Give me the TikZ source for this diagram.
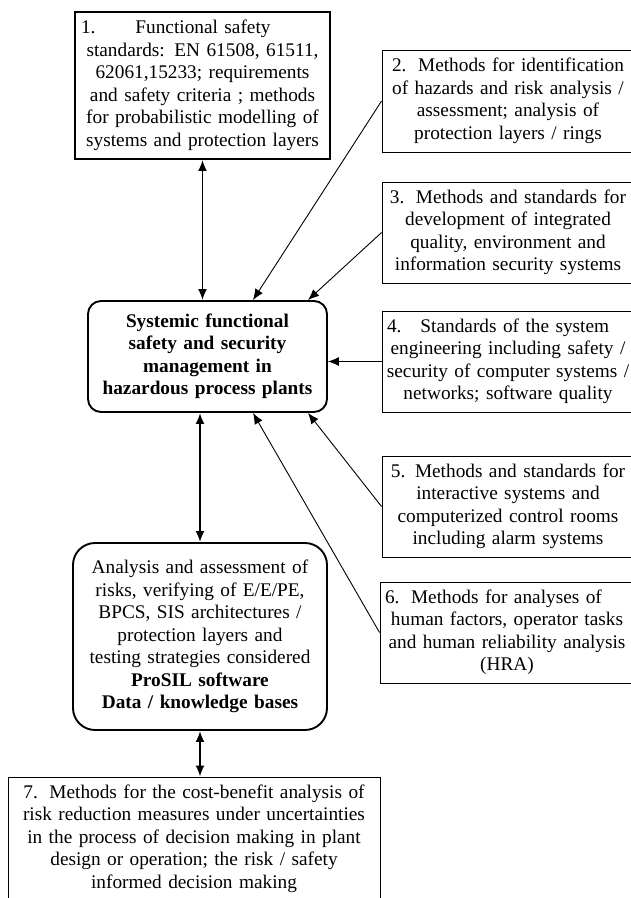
\documentclass[tikz,border=0pt]{standalone}
\usepackage{fontspec}
\setmainfont{Liberation Serif}
\usetikzlibrary{arrows.meta}
\begin{document}
\begin{tikzpicture}[x=1pt,y=-1pt,
  every node/.style={font=\fontsize{19.3}{22.5}\selectfont,inner sep=0pt,align=center},
  sbox/.style={draw=black,line width=0.9pt,rectangle},
  tbox/.style={draw=black,line width=1.9pt,rectangle},
  rbox/.style={draw=black,line width=1.9pt,rectangle,rounded corners=13pt},
  thin arr/.style={line width=0.9pt,-{Latex[length=11pt,width=9pt]}},
  thick arr/.style={line width=1.9pt,{Latex[length=11pt,width=9pt]}-{Latex[length=11pt,width=9pt]}}]
\useasboundingbox (0,0) rectangle (630,898);
\node (b1) at (202.5,85.5) [tbox,minimum width=255pt,minimum height=147pt,text width=250pt] {\makebox[243pt][l]{1.\hspace{40pt}Functional safety}\\ standards: EN 61508, 61511,\\ 62061,15233; requirements\\ and safety criteria ; methods\\ for probabilistic modelling of\\ systems and protection layers};
\node (b2) at (508,101) [sbox,minimum width=252pt,minimum height=102pt,text width=250pt] {2.\hspace{0.6em}Methods for identification\\ of hazards and risk analysis /\\ assessment; analysis of\\ protection layers / rings};
\node (b3) at (508,232.5) [sbox,minimum width=252pt,minimum height=101pt,text width=250pt] {3.\hspace{0.6em}Methods and standards for\\ development of integrated\\ quality, environment and\\ information security systems};
\node (b4) at (508,361.5) [sbox,minimum width=252pt,minimum height=101pt,text width=250pt] {\makebox[242pt][l]{4.\hspace{19pt}Standards of the system}\\ engineering including safety /\\ security of computer systems /\\ networks; software quality};
\node (b5) at (508,506.5) [sbox,minimum width=252pt,minimum height=101pt,text width=250pt] {5. Methods and standards for\\ interactive systems and\\ computerized control rooms\\ including alarm systems};
\node (b6) at (507,632.5) [sbox,minimum width=254pt,minimum height=101pt,text width=250pt] {\makebox[244pt][l]{6.\hspace{0.6em}Methods for analyses of}\\ human factors, operator tasks\\ and human reliability analysis\\ (HRA)};
\node (sys) at (207.5,356.5) [rbox,minimum width=239pt,minimum height=111pt,text width=234pt,font=\fontsize{19.3}{22.5}\selectfont\bfseries] {Systemic functional\\ safety and security\\ management in\\ hazardous process plants};
\node (anl) at (200,636.5) [rbox,rounded corners=22pt,minimum width=254pt,minimum height=187pt,text width=248pt] {Analysis and assessment of\\ risks, verifying of E/E/PE,\\ BPCS, SIS architectures /\\ protection layers and\\ testing strategies considered\\ \textbf{ProSIL software}\\ \textbf{Data / knowledge bases}};
\node (b7) at (194,838.5) [sbox,minimum width=372pt,minimum height=123pt,text width=368pt] {7.\hspace{0.6em}Methods for the cost-benefit analysis of\\ risk reduction measures under uncertainties\\ in the process of decision making in plant\\ design or operation; the risk / safety\\ informed decision making};
\draw[thick arr] (b1.south) -- (b1.south |- sys.north);
\draw[thick arr] (sys.south -| anl.north) -- (anl.north);
\draw[thick arr] (anl.south) -- (anl.south |- b7.north);
\draw[thin arr] (b2.west) -- ([xshift=45.5pt]sys.north);
\draw[thin arr] (b3.west) -- ([xshift=100.5pt]sys.north);
\draw[thin arr] (b4.west) -- (b4.west -| sys.east);
\draw[thin arr] (b5.west) -- ([xshift=100.5pt]sys.south);
\draw[thin arr] (b6.west) -- ([xshift=45.5pt]sys.south);
\end{tikzpicture}
\end{document}
